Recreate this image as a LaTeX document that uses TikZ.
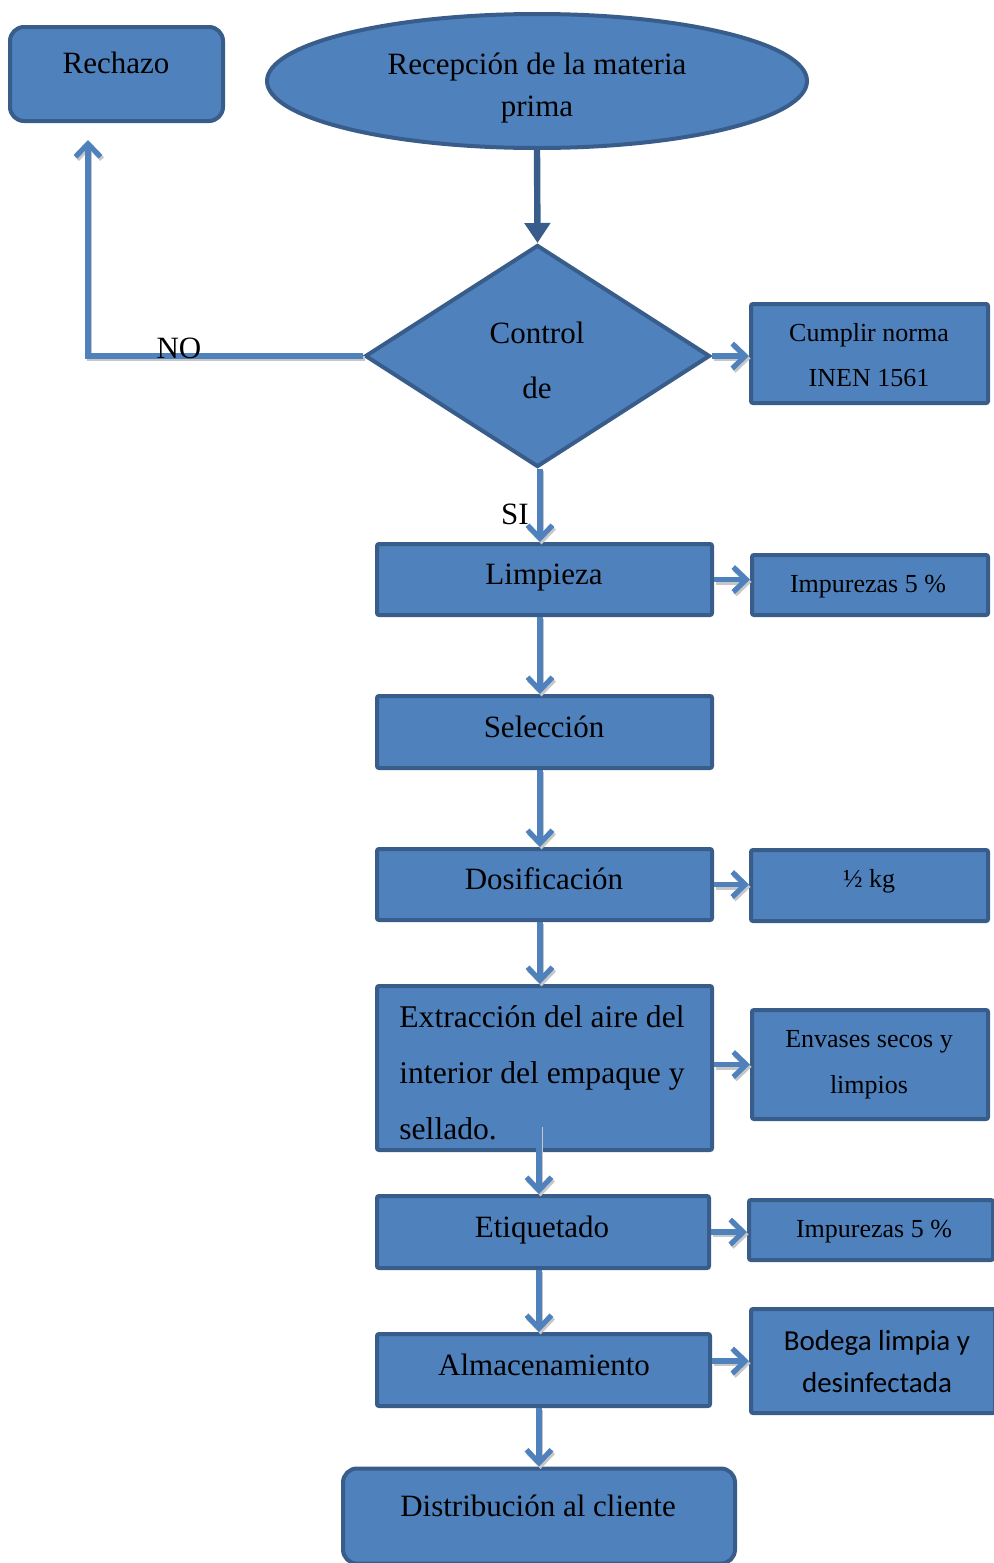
\documentclass[tikz,border=0pt]{standalone}
\usepackage{fontspec}
\setmainfont{Liberation Serif}
\newfontfamily\bodegafont{Carlito}
\usetikzlibrary{shapes.geometric,arrows.meta,calc}
\definecolor{bfill}{HTML}{4F81BD}
\definecolor{bdark}{HTML}{385D8A}
\definecolor{flowline}{HTML}{4F81BD}
\begin{document}
\begin{tikzpicture}[x=0.5pt,y=-0.5pt,
  box/.style={draw=bdark, fill=bfill, line width=2pt, rectangle, inner sep=0pt, rounded corners=1pt},
  roundbox/.style={box, rounded corners=7pt},
  big/.style={font=\fontsize{15.5}{18}\selectfont, anchor=base, inner sep=0pt},
  small/.style={font=\fontsize{13}{15}\selectfont, anchor=base, inner sep=0pt},
  flow/.style={draw=flowline, line width=2.6pt, -{Straight Barb[length=6.5pt,width=12.5pt,line width=2.6pt]},
    preaction={draw=black!22, line width=2.6pt, transform canvas={shift={(0.8pt,-1.2pt)}}}},
  mainflow/.style={draw=bdark, line width=3.2pt, -{Triangle[length=10pt,width=12.5pt]}}
]
\useasboundingbox (0,0) rectangle (993,1563);

% shapes
\node[roundbox, minimum width=106.5pt, minimum height=47pt] (rech) at (116.5,74) {};
\node[draw=bdark, fill=bfill, line width=2pt, ellipse, inner sep=0pt,
      minimum width=270pt, minimum height=67pt] (rec) at (537,81) {};
\node[draw=bdark, fill=bfill, line width=2pt, diamond, inner sep=0pt,
      minimum width=172.5pt, minimum height=111pt] (dia) at (537.5,356) {};
\node[box, minimum width=118.5pt, minimum height=49.5pt] (cump) at (869.5,353.5) {};
\node[box, minimum width=167.5pt, minimum height=35.5pt] (limp) at (544.5,579.5) {};
\node[box, minimum width=118pt, minimum height=30pt] (imp1) at (870,585) {};
\node[box, minimum width=167.5pt, minimum height=36pt] (sel) at (544.5,732) {};
\node[box, minimum width=167.5pt, minimum height=35.5pt] (dos) at (544.5,884.5) {};
\node[box, minimum width=118.5pt, minimum height=35.5pt] (half) at (869.5,885.5) {};
\node[box, minimum width=167.5pt, minimum height=82pt] (ext) at (544.5,1068) {};
\node[box, minimum width=118pt, minimum height=54.5pt] (env) at (870,1064.5) {};
\node[box, minimum width=166pt, minimum height=36pt] (eti) at (543,1232) {};
\node[box, minimum width=122pt, minimum height=30pt] (imp2) at (871,1230) {};
\node[box, minimum width=166.5pt, minimum height=36pt] (alm) at (543.5,1370) {};
\node[box, minimum width=122pt, minimum height=52pt] (bod) at (873,1361) {};
\node[roundbox, minimum width=196pt, minimum height=47.5pt] (dist) at (539,1516) {};

% texts
\node[big] (trech) at (116,73) {Rechazo};
\node[big] (trec1) at (537,74) {Recepción de la materia};
\node[big] (trec2) at (537,116) {prima};
\node[big] (tdia1) at (537,343) {Control};
\node[big] (tdia2) at (537,398) {de};
\node[small] (tcum1) at (869,341) {Cumplir norma};
\node[small] (tcum2) at (869,386) {INEN 1561};
\node[big] (tlimp) at (544,584) {Limpieza};
\node[small] (timp1) at (868,592) {Impurezas 5 \%};
\node[big] (tsel) at (544,737) {Selección};
\node[big] (tdos) at (544,889) {Dosificación};
\node[small] (thalf) at (869,887) {½ kg};
\node[font=\fontsize{15.8}{28}\selectfont, anchor=north west, align=left, inner sep=0pt] (text)
  at (399,1005) {Extracción del aire del\\interior del empaque y\\sellado.};
\node[small] (tenv1) at (869,1047) {Envases secos y};
\node[small] (tenv2) at (869,1093) {limpios};
\node[big] (teti) at (542,1237) {Etiquetado};
\node[small] (timp2) at (874,1237) {Impurezas 5 \%};
\node[big] (talm) at (544,1375) {Almacenamiento};
\node[font=\bodegafont\fontsize{14.5}{17}\selectfont, anchor=base, inner sep=0pt] (tbod1) at (877,1350) {Bodega limpia y};
\node[font=\bodegafont\fontsize{14.5}{17}\selectfont, anchor=base, inner sep=0pt] (tbod2) at (877,1392) {desinfectada};
\node[big] (tdist) at (538,1516) {Distribución al cliente};

% connectors
\coordinate (axis) at (540,0);
\coordinate (nohead) at (88,140);
\coordinate (extin) at (539,1125);

\draw[mainflow] (rec.south) -- (dia.north);
\draw[flow] (dia.west) -| (nohead);
\node[big] (tno) at (179,358) {NO};
\draw[flow] (dia.east) -- (cump.west |- dia.east);
\draw[flow] (dia.south -| axis) -- (limp.north -| axis);
\node[big] (tsi) at (515,524) {SI};
\draw[flow] (limp.east) -- (limp.east -| imp1.west);
\draw[flow] (limp.south -| axis) -- (sel.north -| axis);
\draw[flow] (sel.south -| axis) -- (dos.north -| axis);
\draw[flow] (dos.east) -- (dos.east -| half.west);
\draw[flow] (dos.south -| axis) -- (ext.north -| axis);
\draw[flow] (env.west -| ext.east) -- (env.west);
\draw[flow] (extin) -- (eti.north -| extin);
\draw[flow] (eti.east) -- (eti.east -| imp2.west);
\draw[flow] (eti.south -| extin) -- (alm.north -| extin);
\draw[flow] (bod.west -| alm.east) -- (bod.west);
\draw[flow] (alm.south -| extin) -- (dist.north -| extin);
\end{tikzpicture}
\end{document}
